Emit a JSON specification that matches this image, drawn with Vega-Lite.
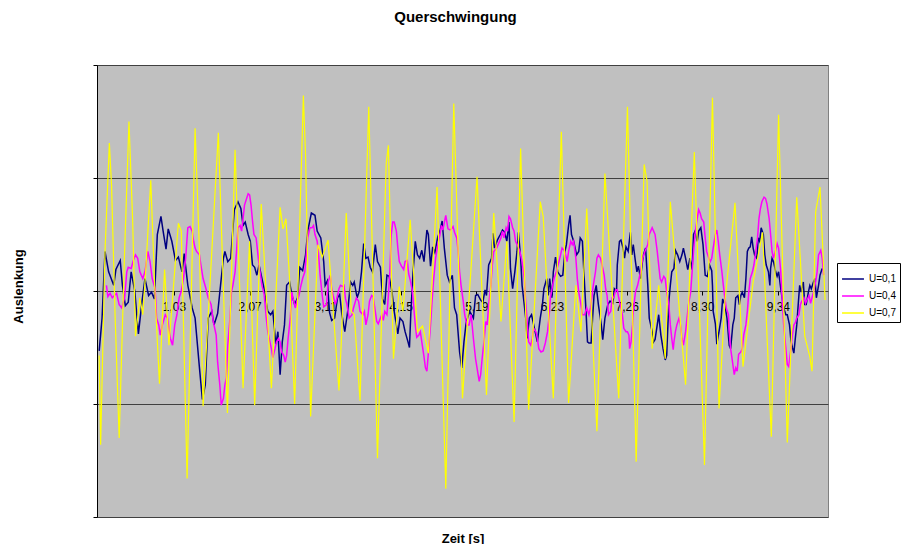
{
 "$schema": "https://vega.github.io/schema/vega-lite/v6.json",
 "width": 731, "height": 452,
 "autosize": "none",
 "padding": {"left": 97, "top": 65, "right": 75, "bottom": 27},
 "background": "white",
 "title": {"text": "Querschwingung", "fontSize": 15, "fontWeight": "bold", "font": "Liberation Sans", "color": "#000", "offset": 40, "anchor": "middle", "dx": -7},
 "config": {"view": {"fill": "#C0C0C0", "stroke": "#808080", "strokeWidth": 1}, "font": "Liberation Sans"},
 "datasets": {
  "a": [{"t":0,"v":-0.53},{"t":0.04,"v":-0.24},{"t":0.08,"v":0.35},{"t":0.13,"v":0.17},{"t":0.20,"v":0.05},{"t":0.23,"v":0.19},{"t":0.29,"v":0.27},{"t":0.32,"v":0.05},{"t":0.36,"v":-0.13},{"t":0.40,"v":-0.10},{"t":0.44,"v":0.17},{"t":0.49,"v":0.0},{"t":0.54,"v":-0.38},{"t":0.59,"v":-0.09},{"t":0.63,"v":0.11},{"t":0.68,"v":-0.04},{"t":0.72,"v":-0.01},{"t":0.76,"v":-0.07},{"t":0.80,"v":0.50},{"t":0.85,"v":0.66},{"t":0.88,"v":0.53},{"t":0.92,"v":0.37},{"t":0.95,"v":0.55},{"t":1.00,"v":0.44},{"t":1.05,"v":0.27},{"t":1.09,"v":0.30},{"t":1.14,"v":0.17},{"t":1.17,"v":0.33},{"t":1.22,"v":0.05},{"t":1.28,"v":-0.15},{"t":1.32,"v":-0.24},{"t":1.38,"v":-0.68},{"t":1.42,"v":-0.96},{"t":1.46,"v":-0.83},{"t":1.50,"v":-0.24},{"t":1.55,"v":-0.18},{"t":1.58,"v":-0.30},{"t":1.63,"v":-0.2},{"t":1.67,"v":0.05},{"t":1.71,"v":0.29},{"t":1.73,"v":0.35},{"t":1.77,"v":0.26},{"t":1.81,"v":0.29},{"t":1.86,"v":0.72},{"t":1.91,"v":0.79},{"t":1.95,"v":0.73},{"t":1.98,"v":0.58},{"t":2.01,"v":0.61},{"t":2.05,"v":0.50},{"t":2.08,"v":0.44},{"t":2.11,"v":0.23},{"t":2.14,"v":0.21},{"t":2.17,"v":0.14},{"t":2.20,"v":0.23},{"t":2.26,"v":0.05},{"t":2.32,"v":-0.18},{"t":2.36,"v":-0.21},{"t":2.39,"v":-0.18},{"t":2.43,"v":-0.47},{"t":2.46,"v":-0.36},{"t":2.49,"v":-0.74},{"t":2.52,"v":-0.45},{"t":2.55,"v":-0.30},{"t":2.58,"v":0.05},{"t":2.62,"v":0.08},{"t":2.65,"v":-0.03},{"t":2.69,"v":-0.12},{"t":2.73,"v":-0.06},{"t":2.76,"v":0.21},{"t":2.80,"v":0.18},{"t":2.84,"v":0.32},{"t":2.87,"v":0.53},{"t":2.92,"v":0.69},{"t":2.97,"v":0.67},{"t":3.00,"v":0.53},{"t":3.05,"v":0.47},{"t":3.09,"v":0.26},{"t":3.11,"v":0.05},{"t":3.14,"v":0.09},{"t":3.17,"v":-0.19},{"t":3.20,"v":-0.26},{"t":3.24,"v":-0.24},{"t":3.28,"v":-0.06},{"t":3.31,"v":-0.03},{"t":3.34,"v":-0.21},{"t":3.38,"v":-0.36},{"t":3.42,"v":-0.18},{"t":3.46,"v":0.08},{"t":3.49,"v":0.05},{"t":3.51,"v":0.08},{"t":3.55,"v":-0.06},{"t":3.58,"v":0.0},{"t":3.61,"v":0.17},{"t":3.64,"v":0.42},{"t":3.67,"v":0.29},{"t":3.70,"v":0.30},{"t":3.73,"v":0.21},{"t":3.76,"v":0.17},{"t":3.80,"v":0.41},{"t":3.83,"v":0.26},{"t":3.87,"v":0.21},{"t":3.90,"v":-0.07},{"t":3.93,"v":-0.12},{"t":3.96,"v":0.14},{"t":3.99,"v":0.13},{"t":4.03,"v":-0.01},{"t":4.06,"v":-0.18},{"t":4.11,"v":-0.38},{"t":4.14,"v":-0.24},{"t":4.18,"v":-0.27},{"t":4.21,"v":-0.36},{"t":4.25,"v":-0.45},{"t":4.27,"v":-0.50},{"t":4.29,"v":-0.18},{"t":4.32,"v":0.17},{"t":4.35,"v":0.44},{"t":4.38,"v":0.32},{"t":4.41,"v":0.29},{"t":4.44,"v":0.36},{"t":4.47,"v":0.26},{"t":4.51,"v":0.54},{"t":4.53,"v":0.50},{"t":4.56,"v":0.22},{"t":4.59,"v":0.39},{"t":4.62,"v":0.34},{"t":4.66,"v":0.48},{"t":4.69,"v":0.53},{"t":4.72,"v":0.62},{"t":4.75,"v":0.38},{"t":4.79,"v":0.14},{"t":4.82,"v":0.08},{"t":4.86,"v":0.14},{"t":4.89,"v":-0.15},{"t":4.92,"v":-0.21},{"t":4.96,"v":-0.54},{"t":4.99,"v":-0.68},{"t":5.02,"v":-0.45},{"t":5.05,"v":-0.28},{"t":5.10,"v":-0.18},{"t":5.15,"v":-0.24},{"t":5.18,"v":-0.04},{"t":5.21,"v":-0.03},{"t":5.25,"v":-0.08},{"t":5.28,"v":-0.10},{"t":5.31,"v":0.01},{"t":5.33,"v":-0.04},{"t":5.36,"v":0.23},{"t":5.40,"v":0.29},{"t":5.42,"v":0.51},{"t":5.44,"v":0.38},{"t":5.48,"v":0.45},{"t":5.52,"v":0.50},{"t":5.55,"v":0.54},{"t":5.58,"v":0.52},{"t":5.61,"v":0.44},{"t":5.64,"v":0.61},{"t":5.66,"v":0.20},{"t":5.69,"v":0.02},{"t":5.72,"v":0.17},{"t":5.75,"v":0.35},{"t":5.77,"v":0.52},{"t":5.80,"v":0.29},{"t":5.82,"v":0.05},{"t":5.85,"v":-0.12},{"t":5.87,"v":-0.24},{"t":5.89,"v":-0.42},{"t":5.92,"v":-0.24},{"t":5.95,"v":-0.21},{"t":5.99,"v":-0.33},{"t":6.03,"v":-0.45},{"t":6.07,"v":-0.24},{"t":6.10,"v":-0.12},{"t":6.12,"v":0.02},{"t":6.16,"v":0.11},{"t":6.18,"v":-0.04},{"t":6.20,"v":0.11},{"t":6.23,"v":-0.06},{"t":6.25,"v":0.17},{"t":6.28,"v":0.30},{"t":6.31,"v":0.17},{"t":6.35,"v":0.13},{"t":6.38,"v":0.14},{"t":6.41,"v":0.35},{"t":6.43,"v":0.41},{"t":6.46,"v":0.58},{"t":6.48,"v":0.67},{"t":6.50,"v":0.50},{"t":6.53,"v":0.44},{"t":6.57,"v":0.32},{"t":6.60,"v":0.35},{"t":6.62,"v":0.47},{"t":6.65,"v":0.44},{"t":6.67,"v":0.17},{"t":6.70,"v":-0.18},{"t":6.72,"v":-0.45},{"t":6.74,"v":-0.46},{"t":6.77,"v":-0.46},{"t":6.79,"v":-0.24},{"t":6.81,"v":-0.04},{"t":6.84,"v":0.05},{"t":6.87,"v":-0.12},{"t":6.91,"v":-0.30},{"t":6.93,"v":-0.43},{"t":6.96,"v":-0.24},{"t":7.00,"v":-0.12},{"t":7.03,"v":-0.09},{"t":7.07,"v":-0.11},{"t":7.09,"v":0.02},{"t":7.12,"v":0.0},{"t":7.13,"v":0.23},{"t":7.16,"v":0.44},{"t":7.18,"v":0.45},{"t":7.21,"v":0.38},{"t":7.23,"v":0.29},{"t":7.25,"v":0.39},{"t":7.28,"v":0.35},{"t":7.31,"v":0.52},{"t":7.33,"v":0.32},{"t":7.35,"v":0.41},{"t":7.38,"v":0.26},{"t":7.40,"v":0.17},{"t":7.42,"v":0.22},{"t":7.45,"v":0.11},{"t":7.47,"v":0.23},{"t":7.49,"v":0.32},{"t":7.52,"v":0.38},{"t":7.55,"v":0.05},{"t":7.57,"v":-0.24},{"t":7.61,"v":-0.36},{"t":7.63,"v":-0.45},{"t":7.65,"v":-0.43},{"t":7.68,"v":-0.30},{"t":7.70,"v":-0.21},{"t":7.73,"v":-0.39},{"t":7.76,"v":-0.51},{"t":7.79,"v":-0.61},{"t":7.81,"v":-0.57},{"t":7.84,"v":-0.09},{"t":7.86,"v":0.05},{"t":7.88,"v":0.17},{"t":7.91,"v":0.20},{"t":7.93,"v":0.36},{"t":7.96,"v":0.32},{"t":7.99,"v":0.26},{"t":8.02,"v":0.32},{"t":8.04,"v":0.38},{"t":8.07,"v":0.29},{"t":8.10,"v":0.19},{"t":8.13,"v":0.29},{"t":8.16,"v":0.19},{"t":8.18,"v":0.50},{"t":8.20,"v":0.53},{"t":8.23,"v":0.44},{"t":8.25,"v":0.53},{"t":8.28,"v":0.56},{"t":8.31,"v":0.41},{"t":8.34,"v":0.14},{"t":8.37,"v":0.13},{"t":8.40,"v":0.23},{"t":8.43,"v":0.18},{"t":8.44,"v":0.05},{"t":8.45,"v":-0.18},{"t":8.48,"v":-0.29},{"t":8.50,"v":-0.47},{"t":8.53,"v":-0.36},{"t":8.56,"v":-0.24},{"t":8.58,"v":-0.07},{"t":8.61,"v":-0.12},{"t":8.64,"v":-0.24},{"t":8.67,"v":-0.48},{"t":8.69,"v":-0.51},{"t":8.72,"v":-0.30},{"t":8.74,"v":-0.24},{"t":8.76,"v":-0.06},{"t":8.79,"v":-0.04},{"t":8.81,"v":-0.12},{"t":8.83,"v":-0.04},{"t":8.85,"v":-0.01},{"t":8.88,"v":-0.06},{"t":8.90,"v":0.11},{"t":8.92,"v":0.35},{"t":8.94,"v":0.38},{"t":8.96,"v":0.39},{"t":8.98,"v":0.48},{"t":9.00,"v":0.38},{"t":9.02,"v":0.32},{"t":9.05,"v":0.29},{"t":9.07,"v":0.47},{"t":9.09,"v":0.44},{"t":9.11,"v":0.56},{"t":9.14,"v":0.50},{"t":9.16,"v":0.32},{"t":9.18,"v":0.23},{"t":9.21,"v":0.17},{"t":9.23,"v":0.05},{"t":9.24,"v":0.20},{"t":9.26,"v":0.29},{"t":9.28,"v":0.26},{"t":9.31,"v":0.17},{"t":9.33,"v":0.13},{"t":9.35,"v":0.17},{"t":9.38,"v":0.02},{"t":9.40,"v":-0.07},{"t":9.42,"v":-0.15},{"t":9.45,"v":-0.21},{"t":9.47,"v":-0.21},{"t":9.50,"v":-0.30},{"t":9.52,"v":-0.44},{"t":9.54,"v":-0.50},{"t":9.56,"v":-0.55},{"t":9.58,"v":-0.42},{"t":9.60,"v":-0.30},{"t":9.62,"v":-0.12},{"t":9.64,"v":0.05},{"t":9.66,"v":-0.01},{"t":9.69,"v":0.08},{"t":9.71,"v":-0.12},{"t":9.73,"v":-0.12},{"t":9.76,"v":-0.01},{"t":9.78,"v":0.05},{"t":9.80,"v":0.02},{"t":9.83,"v":0.08},{"t":9.85,"v":0.11},{"t":9.87,"v":-0.06},{"t":9.90,"v":0.05},{"t":9.92,"v":0.14},{"t":9.95,"v":0.20}],
  "b": [{"t":0.10,"v":0.05},{"t":0.12,"v":-0.05},{"t":0.15,"v":-0.02},{"t":0.18,"v":-0.06},{"t":0.21,"v":-0.04},{"t":0.24,"v":-0.02},{"t":0.275,"v":-0.12},{"t":0.31,"v":-0.15},{"t":0.35,"v":-0.06},{"t":0.38,"v":0.17},{"t":0.40,"v":0.21},{"t":0.44,"v":0.20},{"t":0.47,"v":0.27},{"t":0.50,"v":0.32},{"t":0.53,"v":0.29},{"t":0.56,"v":0.17},{"t":0.60,"v":0.11},{"t":0.63,"v":0.17},{"t":0.67,"v":0.35},{"t":0.70,"v":0.26},{"t":0.73,"v":0.11},{"t":0.77,"v":0.02},{"t":0.79,"v":-0.24},{"t":0.82,"v":-0.30},{"t":0.84,"v":-0.39},{"t":0.87,"v":-0.30},{"t":0.91,"v":-0.21},{"t":0.94,"v":-0.24},{"t":0.98,"v":-0.42},{"t":1.01,"v":-0.48},{"t":1.04,"v":-0.30},{"t":1.07,"v":-0.21},{"t":1.10,"v":-0.06},{"t":1.13,"v":0.0},{"t":1.16,"v":0.11},{"t":1.19,"v":0.29},{"t":1.22,"v":0.56},{"t":1.25,"v":0.57},{"t":1.28,"v":0.53},{"t":1.30,"v":0.44},{"t":1.32,"v":0.38},{"t":1.34,"v":0.35},{"t":1.38,"v":0.32},{"t":1.40,"v":0.23},{"t":1.43,"v":0.11},{"t":1.47,"v":0.02},{"t":1.50,"v":-0.06},{"t":1.54,"v":-0.12},{"t":1.57,"v":-0.27},{"t":1.61,"v":-0.39},{"t":1.63,"v":-0.63},{"t":1.66,"v":-0.83},{"t":1.68,"v":-1.01},{"t":1.71,"v":-0.95},{"t":1.73,"v":-0.83},{"t":1.75,"v":-0.77},{"t":1.77,"v":-0.48},{"t":1.80,"v":-0.24},{"t":1.82,"v":-0.01},{"t":1.84,"v":0.05},{"t":1.87,"v":0.17},{"t":1.89,"v":0.35},{"t":1.91,"v":0.56},{"t":1.94,"v":0.58},{"t":1.96,"v":0.53},{"t":1.98,"v":0.64},{"t":2.00,"v":0.76},{"t":2.03,"v":0.82},{"t":2.05,"v":0.86},{"t":2.07,"v":0.85},{"t":2.09,"v":0.76},{"t":2.11,"v":0.62},{"t":2.13,"v":0.50},{"t":2.16,"v":0.47},{"t":2.18,"v":0.35},{"t":2.20,"v":0.23},{"t":2.22,"v":0.14},{"t":2.24,"v":0.05},{"t":2.27,"v":-0.03},{"t":2.30,"v":-0.24},{"t":2.32,"v":-0.36},{"t":2.34,"v":-0.42},{"t":2.37,"v":-0.51},{"t":2.39,"v":-0.59},{"t":2.42,"v":-0.51},{"t":2.44,"v":-0.45},{"t":2.47,"v":-0.42},{"t":2.49,"v":-0.45},{"t":2.51,"v":-0.54},{"t":2.54,"v":-0.57},{"t":2.56,"v":-0.63},{"t":2.58,"v":-0.57},{"t":2.60,"v":-0.42},{"t":2.63,"v":-0.24},{"t":2.65,"v":-0.01},{"t":2.67,"v":-0.07},{"t":2.70,"v":-0.15},{"t":2.72,"v":-0.09},{"t":2.75,"v":-0.04},{"t":2.77,"v":0.03},{"t":2.80,"v":0.11},{"t":2.83,"v":0.17},{"t":2.85,"v":0.32},{"t":2.87,"v":0.47},{"t":2.90,"v":0.56},{"t":2.93,"v":0.56},{"t":2.95,"v":0.58},{"t":2.97,"v":0.50},{"t":3.00,"v":0.44},{"t":3.02,"v":0.32},{"t":3.04,"v":0.14},{"t":3.07,"v":-0.04},{"t":3.09,"v":-0.14},{"t":3.13,"v":-0.12},{"t":3.15,"v":0.08},{"t":3.18,"v":0.14},{"t":3.20,"v":0.02},{"t":3.22,"v":-0.04},{"t":3.25,"v":-0.12},{"t":3.27,"v":-0.07},{"t":3.30,"v":0.02},{"t":3.32,"v":0.05},{"t":3.35,"v":0.04},{"t":3.37,"v":0.05},{"t":3.39,"v":-0.07},{"t":3.41,"v":-0.12},{"t":3.44,"v":-0.24},{"t":3.48,"v":-0.21},{"t":3.50,"v":-0.15},{"t":3.54,"v":-0.06},{"t":3.57,"v":-0.09},{"t":3.59,"v":-0.18},{"t":3.63,"v":-0.21},{"t":3.65,"v":-0.18},{"t":3.67,"v":-0.30},{"t":3.70,"v":-0.21},{"t":3.72,"v":-0.09},{"t":3.75,"v":-0.04},{"t":3.77,"v":-0.05},{"t":3.80,"v":-0.18},{"t":3.82,"v":-0.27},{"t":3.84,"v":-0.29},{"t":3.87,"v":-0.24},{"t":3.89,"v":-0.21},{"t":3.91,"v":-0.26},{"t":3.93,"v":-0.18},{"t":3.96,"v":-0.21},{"t":3.98,"v":-0.04},{"t":4.00,"v":0.17},{"t":4.02,"v":0.50},{"t":4.04,"v":0.61},{"t":4.06,"v":0.61},{"t":4.09,"v":0.53},{"t":4.11,"v":0.38},{"t":4.13,"v":0.26},{"t":4.16,"v":0.22},{"t":4.19,"v":0.19},{"t":4.21,"v":0.26},{"t":4.24,"v":0.27},{"t":4.26,"v":0.15},{"t":4.28,"v":0.10},{"t":4.31,"v":0.0},{"t":4.33,"v":-0.15},{"t":4.35,"v":-0.30},{"t":4.37,"v":-0.41},{"t":4.40,"v":-0.39},{"t":4.42,"v":-0.36},{"t":4.44,"v":-0.45},{"t":4.47,"v":-0.58},{"t":4.49,"v":-0.68},{"t":4.51,"v":-0.71},{"t":4.53,"v":-0.55},{"t":4.56,"v":-0.30},{"t":4.58,"v":-0.10},{"t":4.60,"v":0.08},{"t":4.63,"v":0.29},{"t":4.66,"v":0.41},{"t":4.69,"v":0.50},{"t":4.71,"v":0.58},{"t":4.73,"v":0.54},{"t":4.76,"v":0.64},{"t":4.77,"v":0.67},{"t":4.80,"v":0.55},{"t":4.83,"v":0.54},{"t":4.85,"v":0.55},{"t":4.87,"v":0.57},{"t":4.89,"v":0.52},{"t":4.92,"v":0.47},{"t":4.94,"v":0.35},{"t":4.96,"v":0.17},{"t":4.98,"v":0.05},{"t":5.01,"v":-0.09},{"t":5.03,"v":-0.21},{"t":5.05,"v":-0.27},{"t":5.06,"v":-0.30},{"t":5.09,"v":-0.30},{"t":5.12,"v":-0.21},{"t":5.15,"v":-0.42},{"t":5.18,"v":-0.60},{"t":5.20,"v":-0.68},{"t":5.23,"v":-0.80},{"t":5.25,"v":-0.74},{"t":5.27,"v":-0.60},{"t":5.30,"v":-0.42},{"t":5.32,"v":-0.27},{"t":5.34,"v":-0.30},{"t":5.36,"v":-0.12},{"t":5.39,"v":0.05},{"t":5.41,"v":0.23},{"t":5.43,"v":0.35},{"t":5.47,"v":0.38},{"t":5.49,"v":0.41},{"t":5.53,"v":0.47},{"t":5.55,"v":0.53},{"t":5.57,"v":0.47},{"t":5.60,"v":0.56},{"t":5.62,"v":0.53},{"t":5.64,"v":0.66},{"t":5.66,"v":0.64},{"t":5.69,"v":0.56},{"t":5.71,"v":0.53},{"t":5.73,"v":0.44},{"t":5.76,"v":0.40},{"t":5.79,"v":0.35},{"t":5.82,"v":0.26},{"t":5.85,"v":0.11},{"t":5.87,"v":-0.10},{"t":5.89,"v":-0.27},{"t":5.91,"v":-0.45},{"t":5.94,"v":-0.48},{"t":5.96,"v":-0.42},{"t":5.98,"v":-0.33},{"t":6.01,"v":-0.36},{"t":6.03,"v":-0.42},{"t":6.05,"v":-0.51},{"t":6.08,"v":-0.54},{"t":6.11,"v":-0.53},{"t":6.14,"v":-0.46},{"t":6.17,"v":-0.36},{"t":6.19,"v":-0.24},{"t":6.21,"v":-0.06},{"t":6.24,"v":0.05},{"t":6.26,"v":0.11},{"t":6.29,"v":0.17},{"t":6.32,"v":0.24},{"t":6.35,"v":0.32},{"t":6.37,"v":0.38},{"t":6.40,"v":0.36},{"t":6.42,"v":0.32},{"t":6.44,"v":0.26},{"t":6.46,"v":0.35},{"t":6.49,"v":0.44},{"t":6.51,"v":0.41},{"t":6.53,"v":0.44},{"t":6.56,"v":0.29},{"t":6.58,"v":0.11},{"t":6.60,"v":-0.01},{"t":6.63,"v":-0.12},{"t":6.65,"v":-0.21},{"t":6.68,"v":-0.21},{"t":6.71,"v":-0.15},{"t":6.74,"v":-0.21},{"t":6.76,"v":-0.15},{"t":6.78,"v":-0.06},{"t":6.80,"v":0.05},{"t":6.83,"v":0.17},{"t":6.85,"v":0.29},{"t":6.87,"v":0.32},{"t":6.90,"v":0.29},{"t":6.92,"v":0.23},{"t":6.95,"v":0.14},{"t":6.97,"v":0.02},{"t":6.99,"v":-0.04},{"t":7.01,"v":-0.21},{"t":7.04,"v":-0.18},{"t":7.06,"v":-0.06},{"t":7.08,"v":-0.06},{"t":7.11,"v":0.01},{"t":7.13,"v":0.01},{"t":7.15,"v":-0.06},{"t":7.18,"v":-0.15},{"t":7.20,"v":-0.21},{"t":7.22,"v":-0.33},{"t":7.25,"v":-0.36},{"t":7.27,"v":-0.36},{"t":7.29,"v":-0.39},{"t":7.30,"v":-0.51},{"t":7.32,"v":-0.45},{"t":7.34,"v":-0.30},{"t":7.35,"v":-0.18},{"t":7.38,"v":-0.01},{"t":7.41,"v":0.05},{"t":7.45,"v":0.17},{"t":7.48,"v":0.29},{"t":7.51,"v":0.35},{"t":7.55,"v":0.41},{"t":7.57,"v":0.50},{"t":7.61,"v":0.56},{"t":7.63,"v":0.53},{"t":7.65,"v":0.50},{"t":7.68,"v":0.35},{"t":7.70,"v":0.23},{"t":7.72,"v":0.11},{"t":7.74,"v":0.08},{"t":7.77,"v":0.13},{"t":7.79,"v":0.11},{"t":7.81,"v":-0.01},{"t":7.84,"v":-0.12},{"t":7.86,"v":-0.30},{"t":7.88,"v":-0.42},{"t":7.90,"v":-0.52},{"t":7.91,"v":-0.45},{"t":7.93,"v":-0.36},{"t":7.95,"v":-0.30},{"t":7.98,"v":-0.24},{"t":8.00,"v":-0.30},{"t":8.02,"v":-0.42},{"t":8.04,"v":-0.48},{"t":8.07,"v":-0.36},{"t":8.09,"v":-0.24},{"t":8.11,"v":-0.12},{"t":8.14,"v":-0.01},{"t":8.16,"v":0.17},{"t":8.18,"v":0.35},{"t":8.20,"v":0.50},{"t":8.23,"v":0.64},{"t":8.25,"v":0.72},{"t":8.27,"v":0.69},{"t":8.29,"v":0.64},{"t":8.32,"v":0.61},{"t":8.34,"v":0.47},{"t":8.36,"v":0.35},{"t":8.39,"v":0.29},{"t":8.41,"v":0.26},{"t":8.43,"v":0.29},{"t":8.45,"v":0.38},{"t":8.48,"v":0.50},{"t":8.50,"v":0.54},{"t":8.52,"v":0.44},{"t":8.54,"v":0.32},{"t":8.57,"v":0.17},{"t":8.59,"v":0.05},{"t":8.61,"v":-0.06},{"t":8.63,"v":-0.15},{"t":8.66,"v":-0.21},{"t":8.67,"v":-0.36},{"t":8.69,"v":-0.51},{"t":8.71,"v":-0.60},{"t":8.74,"v":-0.74},{"t":8.76,"v":-0.68},{"t":8.78,"v":-0.71},{"t":8.80,"v":-0.56},{"t":8.83,"v":-0.54},{"t":8.85,"v":-0.51},{"t":8.87,"v":-0.39},{"t":8.90,"v":-0.30},{"t":8.92,"v":-0.18},{"t":8.94,"v":-0.01},{"t":8.96,"v":0.11},{"t":8.99,"v":0.17},{"t":9.01,"v":0.23},{"t":9.03,"v":0.32},{"t":9.06,"v":0.47},{"t":9.08,"v":0.64},{"t":9.10,"v":0.73},{"t":9.12,"v":0.79},{"t":9.15,"v":0.83},{"t":9.17,"v":0.82},{"t":9.19,"v":0.77},{"t":9.22,"v":0.64},{"t":9.24,"v":0.50},{"t":9.26,"v":0.35},{"t":9.28,"v":0.29},{"t":9.31,"v":0.36},{"t":9.33,"v":0.42},{"t":9.35,"v":0.38},{"t":9.38,"v":0.17},{"t":9.40,"v":-0.09},{"t":9.42,"v":-0.30},{"t":9.45,"v":-0.51},{"t":9.47,"v":-0.65},{"t":9.49,"v":-0.67},{"t":9.52,"v":-0.51},{"t":9.54,"v":-0.39},{"t":9.56,"v":-0.30},{"t":9.58,"v":-0.28},{"t":9.60,"v":-0.24},{"t":9.63,"v":-0.21},{"t":9.65,"v":-0.12},{"t":9.67,"v":-0.09},{"t":9.70,"v":-0.06},{"t":9.72,"v":-0.11},{"t":9.74,"v":-0.08},{"t":9.77,"v":-0.04},{"t":9.79,"v":-0.11},{"t":9.81,"v":-0.06},{"t":9.83,"v":-0.01},{"t":9.86,"v":0.08},{"t":9.88,"v":0.17},{"t":9.90,"v":0.32},{"t":9.93,"v":0.36},{"t":9.95,"v":0.29},{"t":9.97,"v":0.14}],
  "c": [{"t":0,"v":-0.57},{"t":0.02,"v":-1.36},{"t":0.08,"v":0.35},{"t":0.14,"v":1.31},{"t":0.17,"v":0.94},{"t":0.22,"v":-0.24},{"t":0.275,"v":-1.30},{"t":0.35,"v":0.35},{"t":0.41,"v":1.50},{"t":0.46,"v":0.64},{"t":0.50,"v":-0.40},{"t":0.56,"v":-0.06},{"t":0.60,"v":-0.21},{"t":0.64,"v":0.17},{"t":0.71,"v":0.98},{"t":0.77,"v":-0.06},{"t":0.83,"v":-0.82},{"t":0.90,"v":0.19},{"t":0.96,"v":-0.48},{"t":1.09,"v":0.60},{"t":1.13,"v":0.53},{"t":1.21,"v":-1.66},{"t":1.32,"v":1.44},{"t":1.38,"v":0.35},{"t":1.43,"v":-1.02},{"t":1.55,"v":0.35},{"t":1.64,"v":1.40},{"t":1.765,"v":-1.08},{"t":1.87,"v":1.25},{"t":1.98,"v":-0.86},{"t":2.07,"v":0.44},{"t":2.14,"v":-1.01},{"t":2.23,"v":0.77},{"t":2.37,"v":-0.86},{"t":2.49,"v":0.74},{"t":2.53,"v":0.55},{"t":2.57,"v":0.64},{"t":2.62,"v":0.11},{"t":2.69,"v":-1.00},{"t":2.81,"v":1.73},{"t":2.84,"v":1.2},{"t":2.91,"v":-1.11},{"t":3.01,"v":0.41},{"t":3.07,"v":0.30},{"t":3.15,"v":0.45},{"t":3.30,"v":-0.88},{"t":3.33,"v":-0.48},{"t":3.40,"v":0.69},{"t":3.47,"v":-0.18},{"t":3.51,"v":-0.21},{"t":3.59,"v":-0.97},{"t":3.71,"v":1.63},{"t":3.83,"v":-1.48},{"t":3.95,"v":1.13},{"t":3.98,"v":1.29},{"t":4.05,"v":-0.60},{"t":4.13,"v":0.04},{"t":4.18,"v":-0.18},{"t":4.28,"v":0.63},{"t":4.38,"v":-0.36},{"t":4.45,"v":-0.31},{"t":4.53,"v":-0.55},{"t":4.65,"v":0.92},{"t":4.77,"v":-1.75},{"t":4.88,"v":1.66},{"t":5.00,"v":-0.95},{"t":5.02,"v":-0.75},{"t":5.20,"v":1.01},{"t":5.33,"v":-0.92},{"t":5.43,"v":0.69},{"t":5.53,"v":-0.27},{"t":5.61,"v":0.44},{"t":5.71,"v":-1.16},{"t":5.80,"v":1.26},{"t":5.91,"v":-1.05},{"t":6.07,"v":0.79},{"t":6.11,"v":0.66},{"t":6.25,"v":-0.95},{"t":6.36,"v":1.41},{"t":6.46,"v":-0.99},{"t":6.56,"v":0.05},{"t":6.63,"v":-0.36},{"t":6.71,"v":0.73},{"t":6.85,"v":-1.24},{"t":6.96,"v":1.04},{"t":7.15,"v":-0.95},{"t":7.27,"v":1.63},{"t":7.39,"v":-1.51},{"t":7.50,"v":1.12},{"t":7.54,"v":0.97},{"t":7.61,"v":-0.51},{"t":7.70,"v":0.05},{"t":7.79,"v":-0.60},{"t":7.86,"v":0.79},{"t":7.95,"v":0.10},{"t":8.07,"v":-0.83},{"t":8.19,"v":1.23},{"t":8.33,"v":-1.54},{"t":8.44,"v":1.71},{"t":8.53,"v":-1.04},{"t":8.61,"v":-0.1},{"t":8.75,"v":0.78},{"t":8.86,"v":-0.67},{"t":9.00,"v":0.08},{"t":9.13,"v":0.52},{"t":9.25,"v":-1.29},{"t":9.35,"v":1.56},{"t":9.47,"v":-1.34},{"t":9.60,"v":0.83},{"t":9.71,"v":-0.40},{"t":9.78,"v":-0.58},{"t":9.81,"v":-0.71},{"t":9.86,"v":0.70},{"t":9.92,"v":0.92},{"t":9.99,"v":-0.08}]
 },
 "encoding": {
  "x": {"field": "t", "type": "quantitative", "scale": {"domain": [-0.03, 10.03], "nice": false, "zero": false},
   "axis": {"values": [1.03, 2.07, 3.11, 4.15, 5.19, 6.23, 7.26, 8.30, 9.34], "format": ".2f", "labelExpr": "replace(datum.label, '.', ',')", "offset": -226, "domain": false, "grid": false, "ticks": true, "tickSize": 4, "tickColor": "#000", "labelFontSize": 12, "labelColor": "#000", "labelPadding": 6, "labelFont": "Liberation Sans", "labelFlush": false, "title": "Zeit [s]", "titleFontSize": 13, "titleFontWeight": "bold", "titleFont": "Liberation Sans", "titleColor": "#000", "titleX": 365.5, "titleY": 247, "titleAlign": "center", "titleBaseline": "middle"}},
  "y": {"field": "v", "type": "quantitative", "scale": {"domain": [-2, 2], "nice": false, "zero": false},
   "axis": {"values": [-2, -1, 0, 1, 2], "labels": false, "ticks": true, "tickSize": 4, "tickColor": "#000", "domain": true, "domainColor": "#000", "grid": true, "gridColor": "#404040", "gridWidth": 1, "title": "Auslenkung", "titleFontSize": 13, "titleFontWeight": "bold", "titleFont": "Liberation Sans", "titleColor": "#000", "titleX": -79, "titleY": 221, "titleAngle": 270, "titleAlign": "center", "titleBaseline": "middle"}}
 },
 "layer": [
  {"data": {"name": "a"}, "mark": {"type": "line", "strokeWidth": 1.5, "clip": true},
   "encoding": {"color": {"datum": "U=0,1", "type": "nominal",
    "scale": {"domain": ["U=0,1", "U=0,4", "U=0,7"], "range": ["#000080", "#FF00FF", "#FFFF00"]},
    "legend": {"orient": "none", "legendX": 740, "legendY": 198, "title": null, "symbolType": "stroke", "symbolSize": 480, "symbolStrokeWidth": 1.5, "labelFontSize": 10, "labelFont": "Liberation Sans", "labelColor": "#000", "strokeColor": "#000", "fillColor": "#fff", "padding": 4, "rowPadding": 0, "labelOffset": 4}}}},
  {"data": {"name": "b"}, "mark": {"type": "line", "strokeWidth": 1.5, "clip": true},
   "encoding": {"color": {"datum": "U=0,4", "type": "nominal"}}},
  {"data": {"name": "c"}, "mark": {"type": "line", "strokeWidth": 1.2, "clip": true},
   "encoding": {"color": {"datum": "U=0,7", "type": "nominal"}}}
 ]
}
